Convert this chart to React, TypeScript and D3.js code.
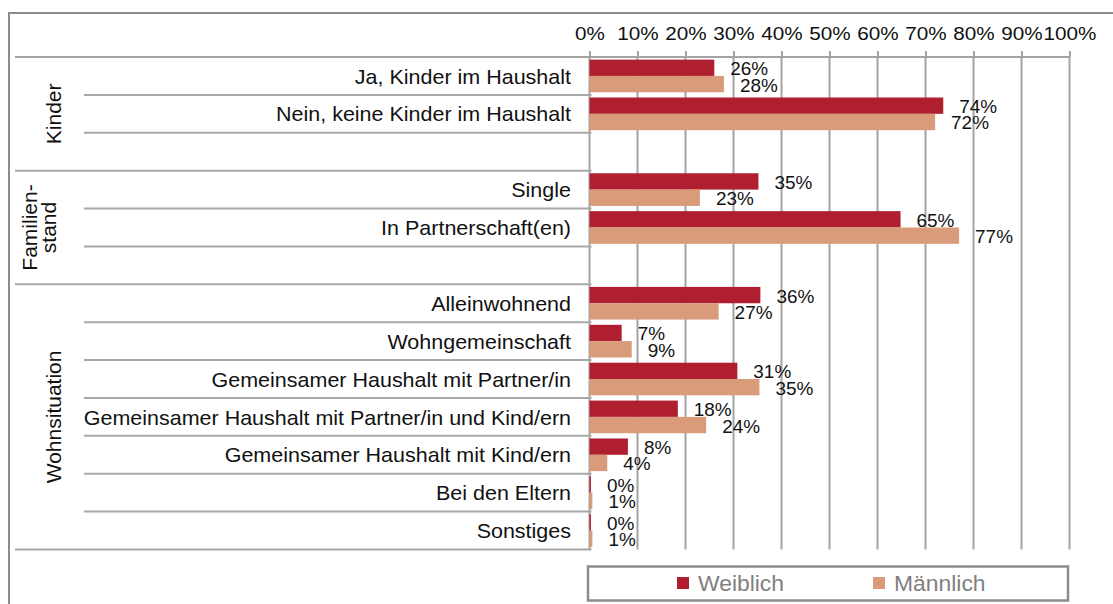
import { useEffect, useRef } from "react";
import * as d3 from "d3";

// rows of the chart, "" marks an empty spacer row
const categories = [
  "Ja, Kinder im Haushalt",
  "Nein, keine Kinder im Haushalt",
  "",
  "Single",
  "In Partnerschaft(en)",
  "",
  "Alleinwohnend",
  "Wohngemeinschaft",
  "Gemeinsamer Haushalt mit Partner/in",
  "Gemeinsamer Haushalt mit Partner/in und Kind/ern",
  "Gemeinsamer Haushalt mit Kind/ern",
  "Bei den Eltern",
  "Sonstiges",
];

const groupLabels = [["Kinder"], ["Familien-", "stand"], ["Wohnsituation"]];
const groupSizes = [3, 3, 7];

const seriesNames = ["Weiblich", "Männlich"];
const weiblich = [26, 73.7, null, 35.2, 64.8, null, 35.6, 6.7, 30.8, 18.4, 8.0, 0.3, 0.3];
const maennlich = [28, 72.0, null, 23.0, 77.0, null, 26.9, 8.8, 35.4, 24.3, 3.7, 0.6, 0.6];

const tickValues = [0, 10, 20, 30, 40, 50, 60, 70, 80, 90, 100];
const colors = ["#AF1F30", "#D99B79"];

const FONT = "'Liberation Sans', Arial, Helvetica, sans-serif";

export default function App() {
  const ref = useRef<SVGSVGElement>(null);

  useEffect(() => {
    if (!ref.current) return;
    const svg = d3.select(ref.current);
    svg.selectAll("*").remove();

    const width = 1113;
    const height = 604;
    svg.attr("width", width).attr("height", height);

    const x = d3.scaleLinear().domain([0, 100]).range([589.5, 1069.5]);
    const y = d3
      .scaleBand<number>()
      .domain(d3.range(categories.length))
      .range([57, 549.5]);
    const inner = d3
      .scaleBand<string>()
      .domain(seriesNames)
      .range([0, y.bandwidth()])
      .paddingOuter(0.16);

    const y0 = y.range()[0];
    const y1 = y.range()[1];
    const step = y.step();
    const gridColor = "#a3a3a3";

    // chart border
    svg
      .append("rect")
      .attr("x", 9)
      .attr("y", 13)
      .attr("width", 1200)
      .attr("height", 700)
      .attr("fill", "#fff")
      .attr("stroke", "#8c8c8c")
      .attr("stroke-width", 2);

    // gridlines
    svg
      .append("g")
      .selectAll("line")
      .data(tickValues)
      .join("line")
      .attr("x1", (d) => x(d))
      .attr("x2", (d) => x(d))
      .attr("y1", y0)
      .attr("y2", y1)
      .attr("stroke", gridColor)
      .attr("stroke-width", 2);

    // bars
    const series = [weiblich, maennlich];
    series.forEach((vals, s) => {
      const rows = vals
        .map((v, i) => ({ i, v }))
        .filter((d) => d.v !== null) as { i: number; v: number }[];
      svg
        .append("g")
        .selectAll("rect")
        .data(rows)
        .join("rect")
        .attr("x", x(0))
        .attr("y", (d) => (y(d.i) || 0) + (inner(seriesNames[s]) || 0))
        .attr("width", (d) => x(d.v) - x(0))
        .attr("height", inner.bandwidth())
        .attr("fill", colors[s]);

      svg
        .append("g")
        .selectAll("text")
        .data(rows)
        .join("text")
        .attr(
          "transform",
          (d) =>
            `translate(${x(d.v) + 16},${
              (y(d.i) || 0) + (inner(seriesNames[s]) || 0) + inner.bandwidth() / 2
            }) scale(1.07,1)`
        )
        .attr("dy", "0.42em")
        .attr("font-family", FONT)
        .attr("font-size", 17.7)
        .attr("fill", "#111")
        .text((d) => d3.format(".0%")(d.v / 100));
    });

    // top axis
    const axis = svg
      .append("g")
      .attr("transform", `translate(0,${y0})`)
      .call(
        d3
          .axisTop(x)
          .tickValues(tickValues)
          .tickSizeInner(6)
          .tickSizeOuter(0)
          .tickPadding(11.5)
          .tickFormat((d) => d + "%")
      );
    axis.select(".domain").remove();
    axis.selectAll("line").attr("stroke", gridColor).attr("stroke-width", 2);
    axis
      .selectAll("text")
      .attr("font-family", FONT)
      .attr("font-size", 18)
      .attr("fill", "#111")
      .attr("transform", "scale(1.15,1)");

    svg
      .append("line")
      .attr("x1", 15)
      .attr("x2", x(100))
      .attr("y1", y0)
      .attr("y2", y0)
      .attr("stroke", gridColor)
      .attr("stroke-width", 2);

    // row separators in the label area
    const groupEnds = d3.cumsum(groupSizes);
    const bounds = d3.range(1, categories.length + 1);
    svg
      .append("g")
      .selectAll("line")
      .data(bounds)
      .join("line")
      .attr("x1", (b) => (groupEnds.includes(b) ? 15 : 84))
      .attr("x2", x(0) + 2)
      .attr("y1", (b) => y0 + b * step)
      .attr("y2", (b) => y0 + b * step)
      .attr("stroke", "#a8a8a8")
      .attr("stroke-width", 2);

    // category labels
    svg
      .append("g")
      .selectAll("text")
      .data(categories.map((c, i) => ({ c, i })).filter((d) => d.c !== ""))
      .join("text")
      .attr(
        "transform",
        (d) => `translate(571,${(y(d.i) || 0) + y.bandwidth() / 2}) scale(1.075,1)`
      )
      .attr("dy", "0.38em")
      .attr("text-anchor", "end")
      .attr("font-family", FONT)
      .attr("font-size", 20)
      .attr("fill", "#111")
      .text((d) => d.c);

    // group labels, rotated
    groupLabels.forEach((lines, g) => {
      const start = g === 0 ? 0 : groupEnds[g - 1];
      const cy = y0 + (start + groupSizes[g] / 2) * step;
      const xs = lines.length === 1 ? [61] : [37, 56];
      lines.forEach((line, j) => {
        svg
          .append("text")
          .attr("transform", `translate(${xs[j]},${cy}) rotate(-90)`)
          .attr("text-anchor", "middle")
          .attr("font-family", FONT)
          .attr("font-size", 21)
          .attr("fill", "#111")
          .text(line);
      });
    });

    // legend
    svg
      .append("rect")
      .attr("x", 588)
      .attr("y", 566.5)
      .attr("width", 480)
      .attr("height", 34)
      .attr("fill", "#fff")
      .attr("stroke", "#8c8c8c")
      .attr("stroke-width", 2.5);

    const legend = svg
      .append("g")
      .selectAll("g")
      .data(seriesNames)
      .join("g")
      .attr("transform", (_, i) => `translate(${677 + i * 196},0)`);
    legend
      .append("rect")
      .attr("x", 0)
      .attr("y", 577)
      .attr("width", 12)
      .attr("height", 12)
      .attr("fill", (_, i) => colors[i]);
    legend
      .append("text")
      .attr("transform", "translate(21,590.5) scale(1.04,1)")
      .attr("font-family", FONT)
      .attr("font-size", 22)
      .attr("fill", "#808080")
      .text((d) => d);
  }, []);

  return (
    <svg
      ref={ref}
      style={{ position: "absolute", left: 0, top: 0, display: "block" }}
    ></svg>
  );
}
